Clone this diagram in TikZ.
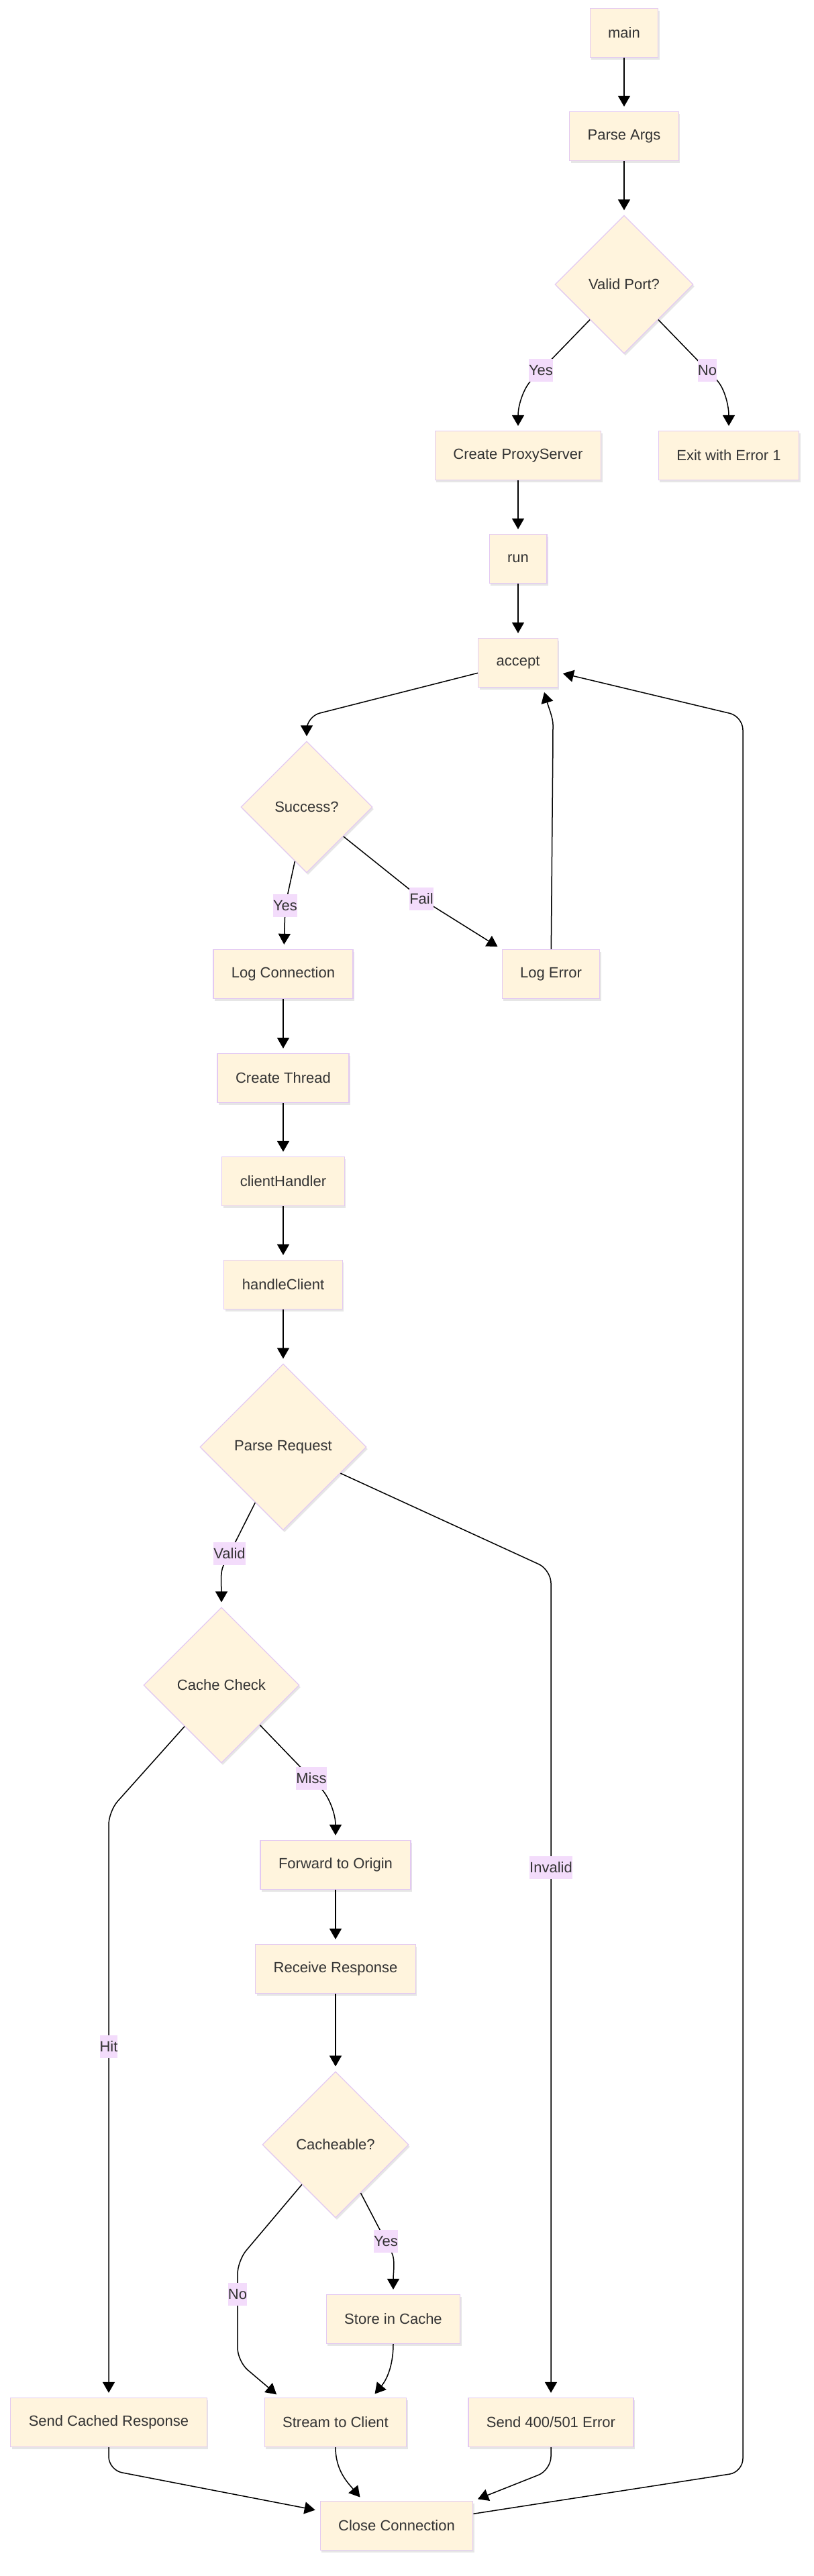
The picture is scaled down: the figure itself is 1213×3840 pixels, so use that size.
\documentclass[tikz,border=0pt]{standalone}
\usepackage{fontspec}
\setmainfont{Liberation Sans}
\usetikzlibrary{arrows.meta, shapes.geometric, shadows, positioning}

\definecolor{nodefill}{HTML}{FFF4DD}
\definecolor{nodeline}{HTML}{E3C9F2}
\definecolor{lblfill}{HTML}{F3DCFB}
\definecolor{txt}{HTML}{333333}

\tikzset{
  proc/.style={draw=nodeline, fill=nodefill, line width=0.6pt, minimum height=36.5pt,
    inner xsep=13.5pt, text=txt, font=\fontsize{11}{13}\selectfont,
    drop shadow={shadow xshift=1pt, shadow yshift=-1.5pt, opacity=0.2}},
  decision/.style={proc, shape=diamond, aspect=1, inner sep=0pt},
  lbl/.style={sharp corners, fill=lblfill, text=txt, font=\fontsize{11}{13}\selectfont,
    inner xsep=0pt, inner ysep=1pt, minimum height=17pt},
  flow/.style={draw=black, line width=0.75pt, -{Triangle[length=8pt,width=9pt]},
    shorten >=3.5pt, rounded corners=10pt}
}

\begin{document}
\begin{tikzpicture}[x=0.5pt, y=-0.5pt]
\useasboundingbox (0,0) rectangle (1213,3840);

\node[proc] (main) at (930,49) {main};
\node[proc] (parse) at (930,203) {Parse Args};
\node[decision, minimum size=103pt] (valid) at (930,424) {Valid Port?};
\node[proc] (create) at (772,679) {Create ProxyServer};
\node[proc] (exit) at (1086,679) {Exit with Error 1};
\node[proc] (run) at (772,833) {run};
\node[proc] (accept) at (772,988) {accept};
\node[decision, minimum size=98pt] (success) at (457,1203) {Success?};
\node[proc] (logconn) at (422,1452) {Log Connection};
\node[proc] (logerr) at (821,1452) {Log Error};
\node[proc] (thread) at (422,1607) {Create Thread};
\node[proc] (handler) at (422,1761) {clientHandler};
\node[proc] (handle) at (422,1915) {handleClient};
\node[decision, minimum size=124pt] (parsereq) at (422,2157) {Parse Request};
\node[decision, minimum size=116pt] (cache) at (330,2512) {Cache Check};
\node[proc] (forward) at (500,2780) {Forward to Origin};
\node[proc] (receive) at (500,2935) {Receive Response};
\node[decision, minimum size=109pt] (cacheable) at (500,3197) {Cacheable?};
\node[proc] (store) at (586,3457) {Store in Cache};
\node[proc] (cached) at (162,3611) {Send Cached Response};
\node[proc] (stream) at (500,3611) {Stream to Client};
\node[proc] (senderr) at (821,3611) {Send 400/501 Error};
\node[proc] (close) at (591,3765) {Close Connection};

% startup
\draw[flow] (main) -- (parse);
\draw[flow] (parse) -- (valid);
\draw[flow] (valid) -- (806,552) node[lbl]{Yes} to[out=-134,in=90] (create);
\draw[flow] (valid) -- (1054,552) node[lbl]{No} to[out=-46,in=90] (exit);
\draw[flow] (create) -- (run);
\draw[flow] (run) -- (accept);

% accept loop
\draw[flow] (accept) -- (457,1068) -- (success);
\draw[flow] (success) -- (425,1350) node[lbl]{Yes} -- (logconn);
\draw[flow] (success) -- (628,1340) node[lbl]{Fail} -- (logerr.north west);
\draw[flow] (logerr) -- (824,1100) to[out=90,in=-74] (accept.-45);
\draw[flow] (close) -- (1107,3685) -- (1107,1068) -- (accept);

% client thread
\draw[flow] (logconn) -- (thread);
\draw[flow] (thread) -- (handler);
\draw[flow] (handler) -- (handle);
\draw[flow] (handle) -- (parsereq);
\draw[flow] (parsereq) -- (342,2316) node[lbl]{Valid} to[out=-117,in=90] (cache);
\draw[flow] (parsereq) -- (821,2340) -- (821,2784) node[lbl]{Invalid} -- (senderr);
\draw[flow] (cache) -- (162,2700) -- (162,3051) node[lbl]{Hit} -- (cached);
\draw[flow] (cache) -- (464,2651) node[lbl]{Miss} to[out=-46,in=90] (forward);
\draw[flow] (forward) -- (receive);
\draw[flow] (receive) -- (cacheable);
\draw[flow] (cacheable) -- (354,3370) -- (354,3420) node[lbl]{No} -- (354,3520) -- ([xshift=12pt]stream.north west);
\draw[flow] (cacheable) -- (575,3341) node[lbl]{Yes} to[out=-63,in=90] (store);
\draw[flow] (store) to[out=-90,in=50] ([xshift=27pt]stream.north);

% closing
\draw[flow] (stream) to[out=-90,in=130] ([xshift=-25pt]close.north);
\draw[flow] (cached) -- (162,3682) -- (close);
\draw[flow] (senderr) -- (821,3682) -- (close.north east);
\end{tikzpicture}
\end{document}
